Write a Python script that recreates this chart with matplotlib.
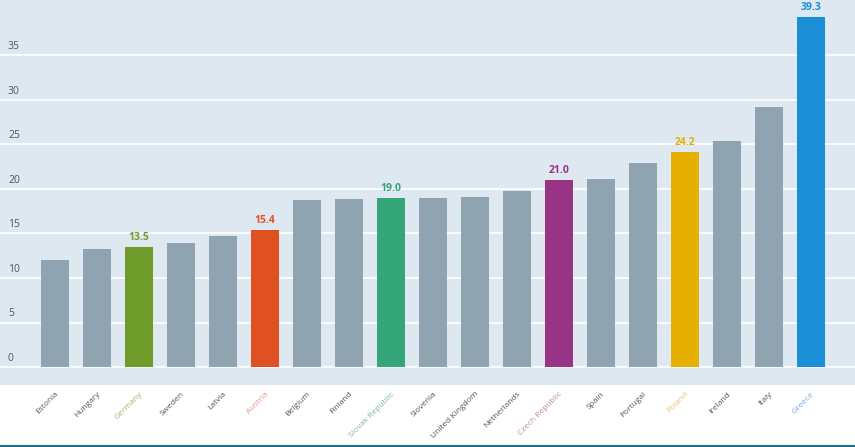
import matplotlib.pyplot as plt
from matplotlib.lines import Line2D

plt.rcParams['font.family'] = ['Open Sans', 'DejaVu Sans']

# data
countries = ['Estonia', 'Hungary', 'Germany', 'Sweden', 'Latvia', 'Austria', 'Belgium',
             'Finland', 'Slovak Republic', 'Slovenia', 'United Kingdom', 'Netherlands',
             'Czech Republic', 'Spain', 'Portugal', 'Poland', 'Ireland', 'Italy', 'Greece']
values = [12.0, 13.3, 13.5, 13.9, 14.7, 15.4, 18.8, 18.9, 19.0, 19.0, 19.1, 19.8,
          21.0, 21.1, 22.9, 24.2, 25.4, 29.2, 39.3]
highlight = {'Germany': '#6e9b2a', 'Austria': '#e05122', 'Slovak Republic': '#35a67a',
             'Czech Republic': '#983385', 'Poland': '#e6b000', 'Greece': '#1a8fd8'}
label_color = {'Germany': '#9bb86a', 'Austria': '#e39a8a', 'Slovak Republic': '#7fb99f',
               'Czech Republic': '#b98aa9', 'Poland': '#e6c66a', 'Greece': '#7aa7d8'}
yticks = [0, 5, 10, 15, 20, 25, 30, 35]

grey = '#8fa3b1'
bg = '#dde8f1'

fig = plt.figure(figsize=(8.55, 4.47), dpi=100)
ax = fig.add_axes([0, 1 - 385 / 447, 1, 385 / 447])
ax.set_facecolor(bg)

x = range(len(countries))
colors = [highlight.get(c, grey) for c in countries]
ax.bar(x, values, width=0.667, color=colors, zorder=3)

for v in yticks:
    ax.axhline(v, color='white', lw=1.2, zorder=1)
    ax.text(-1.12, v + 0.35, str(v), ha='left', va='bottom', fontsize=7.5, color='#555555')

for i, c in enumerate(countries):
    if c in highlight:
        ax.text(i, values[i] + 0.4, f'{values[i]:.1f}', ha='center', va='bottom',
                fontsize=7.5, fontweight='bold', color=highlight[c])

ax.set_xlim(-1.31, 19.05)
ax.set_ylim(-2.0, 41.2)
ax.set_xticks(list(x))
ax.set_xticklabels(countries, rotation=45, ha='right', rotation_mode='anchor', fontsize=6)
for lbl, c in zip(ax.get_xticklabels(), countries):
    lbl.set_color(label_color.get(c, '#555555'))
ax.tick_params(axis='x', length=0, pad=4)
ax.set_yticks([])
for s in ax.spines.values():
    s.set_visible(False)

fig.add_artist(Line2D([0, 1], [1.5 / 447, 1.5 / 447], color='#1f6f80', lw=1.5,
                      transform=fig.transFigure))

fig.savefig('out.png', dpi=100, facecolor='white')
